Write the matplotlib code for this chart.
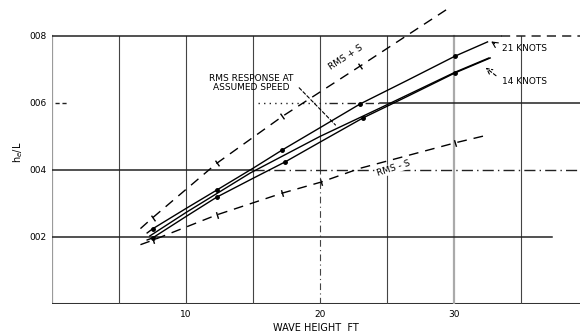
import matplotlib
matplotlib.use("Agg")
import matplotlib.pyplot as plt

# values (wave height in ft, h_e/L)
wave_21 = [7.1, 7.5, 10.0, 12.3, 15.0, 17.2, 20.0, 23.0, 26.5, 30.1, 32.5]
he_21 = [0.00212, 0.00224, 0.00285, 0.00340, 0.00405, 0.00460, 0.00526, 0.00597, 0.00667, 0.00740, 0.00782]

wave_14 = [7.1, 7.5, 10.0, 12.3, 15.0, 17.4, 20.0, 23.2, 26.5, 30.1, 32.7]
he_14 = [0.00191, 0.00197, 0.00261, 0.00319, 0.00375, 0.00424, 0.00483, 0.00555, 0.00619, 0.00690, 0.00734]

wave_rms = [7.3, 10.0, 14.8, 20.0, 24.5, 30.1, 32.6]
he_rms = [0.00203, 0.00273, 0.00391, 0.00500, 0.00585, 0.00692, 0.00734]

wave_up = [6.6, 7.5, 12.3, 17.2, 23.0, 29.5]
he_up = [0.00225, 0.00257, 0.00420, 0.00560, 0.00710, 0.00880]

wave_lo = [6.6, 7.5, 12.3, 17.2, 20.1, 23.0, 30.1, 32.5]
he_lo = [0.00177, 0.00190, 0.00266, 0.00331, 0.00364, 0.00405, 0.00481, 0.00504]

mark_21 = [1, 3, 5, 7, 9]      # indices of the plotted points
mark_14 = [1, 3, 5, 7, 9]
mark_up = [1, 2, 3, 4]
mark_lo = [1, 2, 3, 4, 6]

y_ticks = [0.002, 0.004, 0.006, 0.008]
y_labels = ["002", "004", "006", "008"]
x_ticks = [10, 20, 30]
x_labels = ["10", "20", "30"]

fig = plt.figure(figsize=(5.8, 3.35), dpi=100)
ax = fig.add_axes([52 / 580, 31 / 335, 528 / 580, 304 / 335])
ax.set_xlim(0, 39.4)
ax.set_ylim(0, 0.00907)
for s in ax.spines.values():
    s.set_visible(False)

# grid, drawn by hand to mimic the scan
k = "#222222"
ax.plot([0, 0], [0, 0.008], color="#9a9a9a", lw=1.6, zorder=1)
ax.plot([0, 39.4], [0, 0], color="#333333", lw=2.2, zorder=1)
for xv in [5, 10, 15, 25, 35]:
    ax.plot([xv, xv], [0, 0.008], color="#444444", lw=0.8, zorder=1)
ax.plot([20, 20], [0.004, 0.008], color="#444444", lw=0.8, zorder=1)
ax.plot([20, 20], [0, 0.004], color="#444444", lw=0.8, ls=(0, (6, 3, 1, 3)), zorder=1)
ax.plot([30, 30], [0, 0.008], color="#aaaaaa", lw=1.6, zorder=1)

ax.plot([0, 33.5], [0.008, 0.008], color=k, lw=1.1, zorder=1)
ax.plot([33.5, 39.4], [0.008, 0.008], color=k, lw=1.1, ls=(0, (6, 4)), zorder=1)
ax.plot([0.2, 1.2], [0.006, 0.006], color=k, lw=1.0, ls=(0, (3, 2)), zorder=1)
ax.plot([15.4, 20.7], [0.006, 0.006], color=k, lw=1.0, ls=(0, (1, 3)), zorder=1)
ax.plot([20.7, 24.5], [0.006, 0.006], color=k, lw=1.0, ls=(0, (6, 3, 1, 3)), zorder=1)
ax.plot([24.5, 39.4], [0.006, 0.006], color=k, lw=1.1, zorder=1)
ax.plot([0, 15], [0.004, 0.004], color=k, lw=1.1, zorder=1)
ax.plot([15, 39.4], [0.004, 0.004], color=k, lw=1.0, ls=(0, (8, 3, 1, 3)), zorder=1)
ax.plot([0, 37.3], [0.002, 0.002], color=k, lw=1.1, zorder=1)

# curves
ax.plot(wave_21, he_21, color="black", lw=1.0, marker="o", ms=2.5,
        markevery=mark_21, zorder=3)
ax.plot(wave_14, he_14, color="black", lw=1.0, marker="o", ms=2.5,
        markevery=mark_14, zorder=3)
ax.plot(wave_rms, he_rms, color="black", lw=1.0, zorder=3)
ax.plot(wave_up, he_up, color="black", lw=1.0, ls=(0, (7, 5)),
        marker=(2, 0, 35), ms=5, markevery=mark_up, zorder=3)
ax.plot(wave_lo, he_lo, color="black", lw=1.0, ls=(0, (7, 5)),
        marker=(2, 0, 17), ms=5, markevery=mark_lo, zorder=3)

# labels
fs = 6.5
ax.text(21.9, 0.00735, "RMS + S", fontsize=fs, rotation=33,
        ha="center", va="center", zorder=4)
ax.text(25.5, 0.00405, "RMS - S", fontsize=fs, rotation=18,
        ha="center", va="center", zorder=4,
        bbox=dict(facecolor="white", edgecolor="none", pad=0.5))
ax.text(14.9, 0.00659, "RMS RESPONSE AT\nASSUMED SPEED", fontsize=fs,
        ha="center", va="center", linespacing=1.0, zorder=4)
ax.annotate("", xy=(21.3, 0.00528), xytext=(18.3, 0.00651),
            arrowprops=dict(arrowstyle="-", color="black", lw=0.8,
                            ls=(0, (3, 2))), zorder=4)
ax.text(33.6, 0.00762, "21 KNOTS", fontsize=fs, ha="left", va="center")
ax.text(33.6, 0.00665, "14 KNOTS", fontsize=fs, ha="left", va="center")
ax.annotate("", xy=(32.6, 0.00788), xytext=(33.2, 0.00772),
            arrowprops=dict(arrowstyle="->", color="black", lw=0.8))
ax.annotate("", xy=(32.2, 0.00710), xytext=(33.3, 0.00676),
            arrowprops=dict(arrowstyle="->", color="black", lw=0.8,
                            ls=(0, (3, 2))))

ax.set_yticks(y_ticks)
ax.set_yticklabels(y_labels, fontsize=fs)
ax.set_xticks(x_ticks)
ax.set_xticklabels(x_labels, fontsize=fs)
ax.tick_params(length=0, pad=4)
ax.set_xlabel("WAVE HEIGHT  FT", fontsize=7, labelpad=3)
ax.set_ylabel("h$_e$/L", fontsize=7, labelpad=3)

fig.savefig("out.png", dpi=100)
